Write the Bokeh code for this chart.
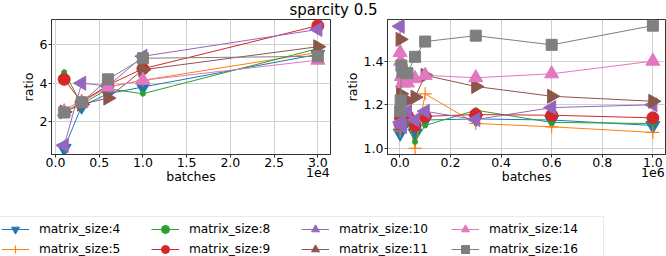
import math
from bokeh.plotting import figure
from bokeh.models import (Range1d, FixedTicker, CustomJSTickFormatter, Label,
                          Legend, LegendItem, LinearAxis)
from bokeh.layouts import column, row
from bokeh.embed import file_html
from bokeh.resources import INLINE

# ---------------- data ----------------
title_text = "sparcity 0.5"
series_names = ["matrix_size:4", "matrix_size:5", "matrix_size:8", "matrix_size:9",
                "matrix_size:10", "matrix_size:11", "matrix_size:14", "matrix_size:16"]

left_batches = [1000, 3000, 6000, 10000, 30000]
left_ratio_4 = [0.6, 2.8, 3.45, 3.8, 5.5]
left_ratio_5 = [2.6, 3.1, 3.8, 4.15, 5.6]
left_ratio_8 = [4.57, 2.9, 3.7, 3.45, 5.8]
left_ratio_9 = [4.2, 3.0, 3.9, 4.75, 7.0]
left_ratio_10 = [0.75, 4.0, 3.85, 5.4, 6.8]
left_ratio_11 = [2.5, 2.9, 3.22, 4.7, 5.9]
left_ratio_14 = [2.5, 3.0, 3.8, 4.15, 5.2]
left_ratio_16 = [2.47, 3.0, 4.2, 5.3, 5.4]

right_batches = [1000, 3000, 6000, 10000, 30000, 60000, 100000, 300000, 600000, 1000000]
right_ratio_4 = [1.07, 1.10, 1.12, 1.14, 1.13, 1.07, 1.13, 1.135, 1.13, 1.105]
right_ratio_5 = [1.08, 1.12, 1.14, 1.14, 1.14, 1.0, 1.25, 1.114, 1.099, 1.073]
right_ratio_8 = [1.30, 1.15, 1.13, 1.12, 1.12, 1.03, 1.105, 1.175, 1.119, 1.114]
right_ratio_9 = [1.11, 1.14, 1.14, 1.15, 1.15, 1.105, 1.147, 1.155, 1.152, 1.14]
right_ratio_10 = [1.56, 1.12, 1.11, 1.10, 1.17, 1.13, 1.17, 1.132, 1.187, 1.20]
right_ratio_11 = [1.50, 1.25, 1.22, 1.22, 1.22, 1.235, 1.335, 1.284, 1.239, 1.216]
right_ratio_14 = [1.44, 1.40, 1.33, 1.30, 1.30, 1.32, 1.335, 1.324, 1.342, 1.40]
right_ratio_16 = [1.17, 1.22, 1.38, 1.35, 1.345, 1.42, 1.49, 1.517, 1.475, 1.563]

left_ticks = [0, 5000, 10000, 15000, 20000, 25000, 30000]
left_yticks = [2, 4, 6]
right_ticks = [0, 200000, 400000, 600000, 800000, 1000000]
right_yticks = [1.0, 1.2, 1.4]

left_series = [left_ratio_4, left_ratio_5, left_ratio_8, left_ratio_9,
               left_ratio_10, left_ratio_11, left_ratio_14, left_ratio_16]
right_series = [right_ratio_4, right_ratio_5, right_ratio_8, right_ratio_9,
                right_ratio_10, right_ratio_11, right_ratio_14, right_ratio_16]

# ---------------- styles ----------------
colors = ["#1f77b4", "#ff7f0e", "#2ca02c", "#d62728",
          "#9467bd", "#8c564b", "#e377c2", "#7f7f7f"]
markers = ["inverted_triangle", "cross", "circle", "circle",
           "triangle", "triangle", "triangle", "square"]
angles = [0, 0, 0, 0, math.pi / 2, -math.pi / 2, 0, 0]
sizes = [14, 13, 5, 12, 14, 14, 14, 11]

FONT = "DejaVu Sans"
FS = "12.5px"


def padded(vals):
    lo, hi = min(vals), max(vals)
    pad = 0.05 * (hi - lo)
    return Range1d(lo - pad, hi + pad)


def add_series(p, xs, series):
    out = []
    for ys, c, m, a, s in zip(series, colors, markers, angles, sizes):
        lr = p.line(xs, ys, line_color=c, line_width=1)
        sr = p.scatter(xs, ys, marker=m, size=s, angle=a, fill_color=c, line_color=c,
                       line_width=1.2 if m == "cross" else 1)
        out.append((lr, sr))
    return out


def style_text(ax):
    ax.major_label_text_font = FONT
    ax.major_label_text_font_size = FS
    ax.major_label_text_color = "black"
    ax.axis_label_text_font = FONT
    ax.axis_label_text_font_size = FS
    ax.axis_label_text_font_style = "normal"
    ax.axis_label_text_color = "black"


def make_panel(xs, series, xticks, yticks, scale, exponent, width, bl, br):
    allx = list(xs)
    ally = [v for s in series for v in s]
    p = figure(width=width, height=177, x_range=padded(allx), y_range=padded(ally),
               output_backend="svg", toolbar_location=None,
               min_border_left=bl, min_border_right=br, min_border_top=1,
               min_border_bottom=41)
    p.background_fill_color = "white"
    p.outline_line_color = "#333333"
    p.outline_line_width = 1
    add_series(p, xs, series)
    xax = p.xaxis[0]
    yax = p.yaxis[0]
    xtk = FixedTicker(ticks=xticks)
    ytk = FixedTicker(ticks=yticks)
    xax.ticker = xtk
    yax.ticker = ytk
    p.xgrid[0].ticker = xtk
    p.ygrid[0].ticker = ytk
    xax.formatter = CustomJSTickFormatter(args=dict(scale=float(scale)),
                                          code="return (tick/scale).toFixed(1);")
    if isinstance(yticks[0], float):
        yax.formatter = CustomJSTickFormatter(code="return tick.toFixed(1);")
    yax.axis_label = "ratio"
    for ax in (xax, yax):
        ax.axis_line_color = "#333333"
        ax.major_tick_line_color = "#333333"
        ax.major_tick_in = 0
        ax.major_tick_out = 3
        ax.minor_tick_line_color = None
        ax.major_label_standoff = 1
        ax.axis_label_standoff = 1
        style_text(ax)
    xax.major_label_standoff = 0
    # second row below: offset text ("1e4") under the last tick, and the axis label
    ax2 = LinearAxis(ticker=FixedTicker(ticks=[max(xticks)]),
                     formatter=CustomJSTickFormatter(args=dict(exp=exponent),
                                                     code="return exp;"),
                     axis_label="batches",
                     axis_line_color=None, major_tick_line_color=None,
                     minor_tick_line_color=None, major_tick_in=0, major_tick_out=0,
                     major_label_standoff=-2, axis_label_standoff=-11)
    style_text(ax2)
    p.add_layout(ax2, "below")
    p.grid.grid_line_color = "#cfcfcf"
    p.grid.grid_line_width = 1
    return p


p1 = make_panel(left_batches, left_series, left_ticks, left_yticks, 1e4, "1e4",
                340, 51, 10)
p2 = make_panel(right_batches, right_series, right_ticks, right_yticks, 1e6, "1e6",
                326, 47, 1)

# title strip
pt = figure(width=666, height=18, x_range=Range1d(0, 1), y_range=Range1d(0, 1),
            output_backend="svg", toolbar_location=None,
            min_border=0, min_border_left=0, min_border_right=0,
            min_border_top=0, min_border_bottom=0)
pt.axis.visible = False
pt.grid.visible = False
pt.outline_line_color = None
pt.add_layout(Label(x=0.5, y=0.5, text=title_text, text_align="center",
                    text_baseline="middle", text_font=FONT, text_font_size="15px",
                    text_color="black"))

# legend strip: same series drawn outside the visible range, used only as legend keys
pl = figure(width=666, height=61, x_range=Range1d(-2, -1), y_range=Range1d(-2, -1),
            output_backend="svg", toolbar_location=None,
            min_border=0, min_border_left=0, min_border_right=0,
            min_border_top=0, min_border_bottom=0)
pl.axis.visible = False
pl.grid.visible = False
pl.outline_line_color = None
keys = add_series(pl, left_batches, left_series)
items = [LegendItem(label=name, renderers=[lr, sr])
         for name, (lr, sr) in zip(series_names, keys)]
legend = Legend(items=items, location=(-2, -6), orientation="vertical", nrows=2,
                glyph_width=28, glyph_height=20, label_standoff=10, label_width=112,
                label_height=20, spacing=0, padding=2, margin=0,
                label_text_font=FONT, label_text_font_size="12.2px",
                label_text_color="black",
                border_line_color="#d5d5d5", border_line_width=1,
                background_fill_color="white", background_fill_alpha=0.8)
pl.add_layout(legend)

layout = column(pt, row(p1, p2), pl)

open("out.html", "w").write(file_html(layout, INLINE))
